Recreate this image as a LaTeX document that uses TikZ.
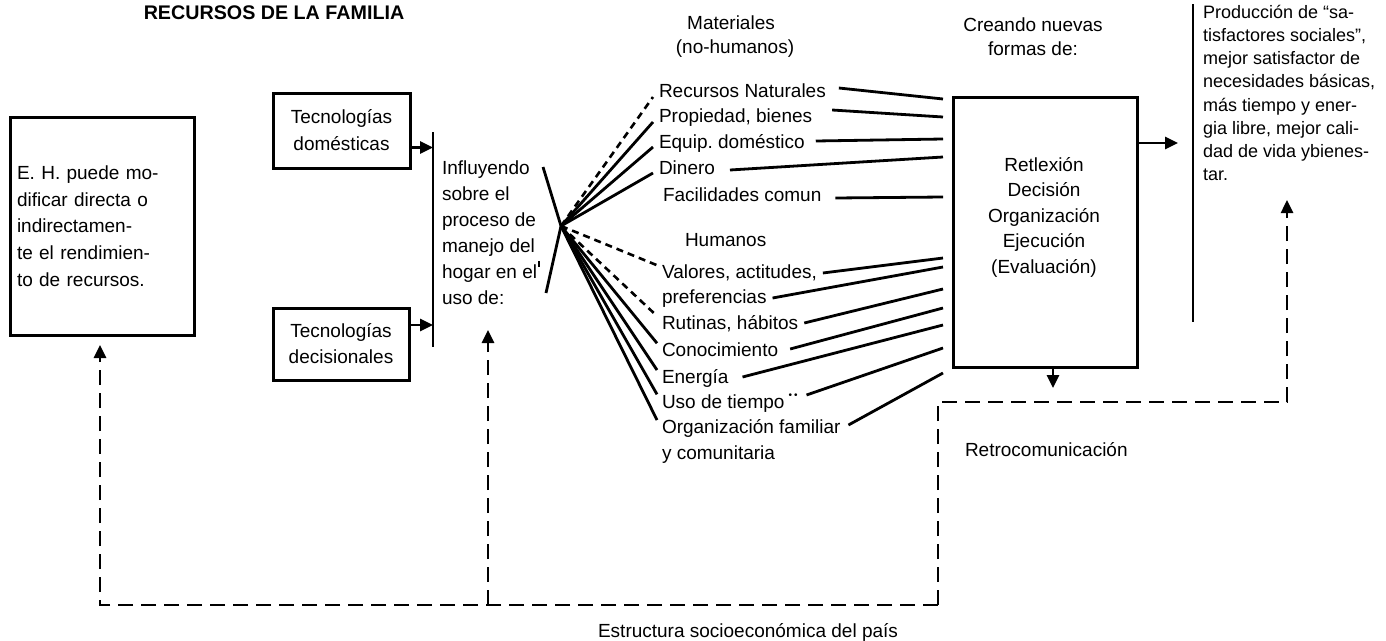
\documentclass[tikz,border=0pt]{standalone}
\usepackage{fontspec}
\setmainfont{Liberation Sans}
\usetikzlibrary{calc,arrows.meta}
\frenchspacing
\begin{document}
\begin{tikzpicture}[x=1pt,y=-1pt,
  every node/.style={inner sep=0pt, outer sep=0pt},
  txt/.style={font=\fontsize{19}{26.7}\selectfont},
  box/.style={draw, line width=3pt},
  link/.style={line width=2.8pt},
  dlink/.style={line width=2.6pt, dash pattern=on 7pt off 5pt},
  loop/.style={line width=2.6pt, dash pattern=on 15pt off 8pt},
  tip/.style={-{Triangle[length=13pt,width=12pt]}},
  item/.style={txt, anchor=base west},
]
\useasboundingbox (0,0) rectangle (1386,640);

% title
\node[font=\fontsize{19.7}{24}\selectfont\bfseries, anchor=base] (title) at (274,19) {RECURSOS DE LA FAMILIA};

% left box
\node[box, txt, align=left, text width=170pt, inner xsep=7pt, minimum height=218pt] (eh) at (102,226)
  {E. H. puede mo-\\dificar directa o\\indirectamen-\\te el rendimien-\\to de recursos.};

% technology boxes and the bar they feed
\node[box, font=\fontsize{19}{27}\selectfont, align=center, minimum width=137pt, minimum height=75pt] (dom) at (341.5,130.5) {Tecnologías\\domésticas};
\node[box, font=\fontsize{19}{26}\selectfont, align=center, minimum width=136pt, minimum height=72pt] (dec) at (341,344) {Tecnologías\\decisionales};
\coordinate (barT) at (433,132);
\coordinate (barB) at (433,347);
\draw[link] (barT) -- (barB);
\coordinate (domOut) at ($(dom.east)+(0,17)$);
\coordinate (decOut) at ($(dec.east)+(0,-19)$);
\draw[link,tip] (domOut) -- (domOut -| barT);
\draw[link,tip] (decOut) -- (decOut -| barT);

% process text
\node[font=\fontsize{19}{26}\selectfont, align=left, anchor=north west] (infl) at (442,161)
  {Influyendo\\sobre el\\proceso de\\manejo del\\hogar en el\\uso de:};
\draw[line width=1.4pt] (539,261) -- (539,267);

% fan vertex
\coordinate (fan) at (561,226);
\coordinate (brT) at (543,167);
\coordinate (brB) at (546,293);
\draw[link] (brT) -- (fan) -- (brB);

% headers
\node[txt, anchor=base] (mat) at (731,29) {Materiales};
\node[txt, anchor=base] (nohum) at (735,53) {(no-humanos)};
\node[txt, anchor=base] (crea) at (1033,31) {Creando nuevas};
\node[txt, anchor=base] (formas) at (1033,55) {formas de:};

% resources
\node[item] (rn) at (659,97) {Recursos Naturales};
\node[item] (pb) at (659,122) {Propiedad, bienes};
\node[item] (eq) at (659,148) {Equip. doméstico};
\node[item] (di) at (659,174) {Dinero};
\node[item] (fc) at (663,201) {Facilidades comun};
\node[item] (hum) at (685,246) {Humanos};
\node[item] (va) at (662,278) {Valores, actitudes,};
\node[item] (pr) at (662,303) {preferencias};
\node[item] (ru) at (662,329) {Rutinas, hábitos};
\node[item] (co) at (662,356) {Conocimiento};
\node[item] (en) at (662,383) {Energía};
\node[item] (us) at (662,408) {Uso de tiempo\hspace{4pt}\raisebox{10pt}{\fontsize{10}{10}\selectfont •\hspace{2pt}•}};
\node[item] (of) at (662,433) {Organización familiar};
\node[item] (yc) at (662,459) {y comunitaria};

% fan lines
\draw[dlink] (fan) -- ($(rn.base west)+(-6,0)$);
\draw[link] (fan) -- ($(pb.base west)+(-6,0)$);
\draw[link] (fan) -- ($(eq.base west)+(-6,-1)$);
\draw[link] (fan) -- ($(di.base west)+(-6,-1)$);
\draw[dlink] (fan) -- ($(va.north west)+(-5,1)$);
\draw[dlink] (fan) -- ($(ru.north west)+(-5,1)$);
\draw[link] (fan) -- ($(co.north west)+(-5,1)$);
\draw[link] (fan) -- ($(en.north west)+(-5,1)$);
\draw[link] (fan) -- ($(us.north west)+(-5,1)$);
\draw[link] (fan) -- ($(of.north west)+(-5,1)$);

% management box
\node[box, minimum width=184pt, minimum height=270pt] (mgmt) at (1045,232) {};
\node[font=\fontsize{19}{25.5}\selectfont, align=center] (steps) at (1044,217)
  {Retlexión\\Decisión\\Organización\\Ejecución\\(Evaluación)};

% resources into the box
\draw[link] ($(rn.base east)+(13,-9)$) -- ($(mgmt.north west)+(-10,2)$);
\draw[link] ($(pb.base east)+(20,-12)$) -- ($(mgmt.north west)+(-10,20)$);
\draw[link] ($(eq.base east)+(11,-7)$) -- ($(mgmt.north west)+(-10,42)$);
\draw[link] ($(di.base east)+(15,-4)$) -- ($(mgmt.north west)+(-10,60)$);
\draw[link] ($(fc.base east)+(14,-3)$) -- ($(mgmt.north west)+(-10,100)$);
\draw[link] ($(va.base east)+(6,-5)$) -- ($(mgmt.north west)+(-10,161)$);
\draw[link] ($(pr.base east)+(6,-5)$) -- ($(mgmt.north west)+(-10,170)$);
\draw[link] ($(ru.base east)+(6,-6)$) -- ($(mgmt.north west)+(-10,192)$);
\draw[link] ($(co.base east)+(12,-7)$) -- ($(mgmt.north west)+(-10,211)$);
\draw[link] ($(en.base east)+(14,-6)$) -- ($(mgmt.north west)+(-10,228)$);
\draw[link] ($(us.base east)+(9,-13)$) -- ($(mgmt.north west)+(-10,251)$);
\draw[link] ($(of.base east)+(8,-8)$) -- ($(mgmt.north west)+(-10,276)$);

% outputs of the box
\draw[link,tip] ($(mgmt.north east)+(0,46)$) -- ($(mgmt.north east)+(41,46)$);
\draw[link,tip] ($(mgmt.south)+(8,0)$) -- ($(mgmt.south)+(8,21)$);

% results
\coordinate (obT) at (1193,4);
\coordinate (obB) at (1193,322);
\draw[link] (obT) -- (obB);
\node[font=\fontsize{18}{23.2}\selectfont, align=left, anchor=north west] (result) at (1203,5)
  {Producción de “sa-\\tisfactores sociales”,\\mejor satisfactor de\\necesidades básicas,\\más tiempo y ener-\\gia libre, mejor cali-\\dad de vida ybienes-\\tar.};

% feedback loop
\coordinate (lc) at (100,605);
\coordinate (rc) at (938,605);
\coordinate (mid) at (488,605);
\coordinate (midTip) at (488,330);
\coordinate (rt) at (938,402);
\coordinate (fr) at (1287,402);
\coordinate (frTip) at (1287,200);
\draw[loop,tip] (rc) -- (lc) -- ($(eh.south)+(-2,10)$);
\draw[loop,tip] (mid) -- (midTip);
\draw[loop,tip] (rc) -- (rt) -- (fr) -- (frTip);

\node[txt, anchor=base] (struct) at (748,637) {Estructura socioeconómica del país};
\node[txt, anchor=base west] (retro) at (965,456) {Retrocomunicación};
\end{tikzpicture}
\end{document}
